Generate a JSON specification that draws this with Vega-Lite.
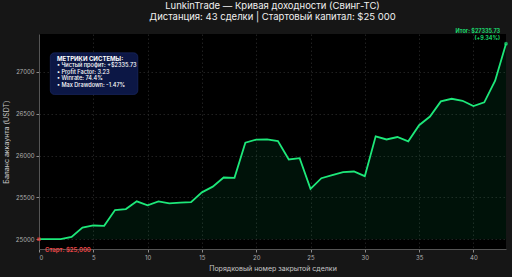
{
  "$schema": "https://vega.github.io/schema/vega-lite/v6.json",
  "width": 467,
  "height": 215,
  "autosize": {"type": "none"},
  "padding": {"left": 39, "top": 34, "right": 6, "bottom": 28},
  "background": "#161616",
  "config": {
    "font": "Inter",
    "view": {"fill": "#000000", "stroke": null},
    "axis": {
      "labelColor": "#b0b0b0",
      "labelFontSize": 6,
      "titleColor": "#c8c8c8",
      "titleFontSize": 7,
      "titleFontWeight": "normal",
      "tickColor": "#8a8a8a",
      "tickSize": 3,
      "domainColor": "#555555",
      "gridColor": "#353535",
      "gridDash": [1.5, 2.5],
      "gridWidth": 0.6
    }
  },
  "title": {
    "text": ["LunkinTrade — Кривая доходности (Свинг-ТС)", "Дистанция: 43 сделки | Стартовый капитал: $25 000"],
    "color": "#f0f0f0",
    "fontSize": 9.5,
    "fontWeight": "normal",
    "lineHeight": 11,
    "anchor": "middle",
    "frame": "group",
    "offset": 7
  },
  "layer": [
    {
      "data": {"name": "equity"},
      "mark": {"type": "area", "color": "#00e676", "opacity": 0.08},
      "encoding": {
        "x": {
          "field": "trade", "type": "quantitative",
          "scale": {"domain": [0, 43], "nice": false, "zero": false},
          "axis": {"values": [0, 5, 10, 15, 20, 25, 30, 35, 40], "title": "Порядковый номер закрытой сделки", "titlePadding": 4, "labelPadding": 2}
        },
        "y": {
          "field": "balance", "type": "quantitative",
          "scale": {"domain": [24883, 27452], "nice": false, "zero": false},
          "axis": {"values": [25000, 25500, 26000, 26500, 27000], "format": "d", "title": "Баланс аккаунта (USDT)", "titlePadding": 6, "labelPadding": 2}
        },
        "y2": {"datum": 25000}
      }
    },
    {
      "data": {"name": "equity"},
      "mark": {"type": "line", "color": "#1de87a", "strokeWidth": 1.8},
      "encoding": {
        "x": {"field": "trade", "type": "quantitative"},
        "y": {"field": "balance", "type": "quantitative"}
      }
    },
    {
      "data": {"values": [{}]},
      "mark": {"type": "point", "shape": "square", "color": "#ff3b3b", "filled": true, "size": 12},
      "encoding": {
        "x": {"datum": 0},
        "y": {"datum": 25000}
      }
    },
    {
      "data": {"values": [{}]},
      "mark": {"type": "point", "shape": "circle", "color": "#1de87a", "filled": true, "size": 14},
      "encoding": {
        "x": {"datum": 43},
        "y": {"datum": 27335.73}
      }
    },
    {
      "data": {"values": [{}]},
      "mark": {"type": "text", "color": "#f04848", "fontSize": 6, "fontWeight": 600, "align": "left", "baseline": "middle", "dx": 6, "dy": 11},
      "encoding": {
        "x": {"datum": 0},
        "y": {"datum": 25000},
        "text": {"value": "Старт: $25,000"}
      }
    },
    {
      "data": {"values": [{}]},
      "mark": {"type": "text", "color": "#1de87a", "fontSize": 5.5, "fontWeight": 600, "align": "right", "baseline": "bottom", "dx": -6, "dy": -10, "lineBreak": "\n", "lineHeight": 6.8},
      "encoding": {
        "x": {"datum": 43},
        "y": {"datum": 27335.73},
        "text": {"value": "Итог: $27335.73\n(+9.34%)"}
      }
    },
    {
      "data": {"values": [{}]},
      "mark": {"type": "rect", "fill": "#0c1745", "stroke": "#1f2d6b", "strokeWidth": 0.6, "cornerRadius": 4},
      "encoding": {
        "x": {"datum": 1.04},
        "x2": {"datum": 9.1},
        "y": {"datum": 27227},
        "y2": {"datum": 26730}
      }
    },
    {
      "data": {"values": [{}]},
      "mark": {"type": "text", "color": "#ffffff", "fontSize": 6, "fontWeight": "bold", "align": "left", "baseline": "middle"},
      "encoding": {
        "x": {"datum": 1.65},
        "y": {"datum": 27155},
        "text": {"value": "МЕТРИКИ СИСТЕМЫ:"}
      }
    },
    {
      "data": {"values": [{}]},
      "mark": {"type": "text", "color": "#ffffff", "fontSize": 5.6, "fontWeight": 500, "align": "left", "baseline": "top", "lineBreak": "\n", "lineHeight": 6.7},
      "encoding": {
        "x": {"datum": 1.65},
        "y": {"datum": 27105},
        "text": {"value": "• Чистый профит: +$2335.73\n• Profit Factor: 3.23\n• Winrate: 74.4%\n• Max Drawdown: -1.47%"}
      }
    }
  ],
  "datasets": {
    "equity": [
      {"trade": 0, "balance": 25000},
      {"trade": 1, "balance": 25000},
      {"trade": 2, "balance": 25000},
      {"trade": 3, "balance": 25028},
      {"trade": 4, "balance": 25140},
      {"trade": 5, "balance": 25164},
      {"trade": 6, "balance": 25160},
      {"trade": 7, "balance": 25348},
      {"trade": 8, "balance": 25360},
      {"trade": 9, "balance": 25452},
      {"trade": 10, "balance": 25404},
      {"trade": 11, "balance": 25452},
      {"trade": 12, "balance": 25428},
      {"trade": 13, "balance": 25436},
      {"trade": 14, "balance": 25444},
      {"trade": 15, "balance": 25560},
      {"trade": 16, "balance": 25628},
      {"trade": 17, "balance": 25737},
      {"trade": 18, "balance": 25733},
      {"trade": 19, "balance": 26154},
      {"trade": 20, "balance": 26190},
      {"trade": 21, "balance": 26194},
      {"trade": 22, "balance": 26173},
      {"trade": 23, "balance": 25953},
      {"trade": 24, "balance": 25969},
      {"trade": 25, "balance": 25601},
      {"trade": 26, "balance": 25729},
      {"trade": 27, "balance": 25765},
      {"trade": 28, "balance": 25801},
      {"trade": 29, "balance": 25809},
      {"trade": 30, "balance": 25753},
      {"trade": 31, "balance": 26230},
      {"trade": 32, "balance": 26192},
      {"trade": 33, "balance": 26221},
      {"trade": 34, "balance": 26170},
      {"trade": 35, "balance": 26362},
      {"trade": 36, "balance": 26466},
      {"trade": 37, "balance": 26647},
      {"trade": 38, "balance": 26678},
      {"trade": 39, "balance": 26654},
      {"trade": 40, "balance": 26590},
      {"trade": 41, "balance": 26635},
      {"trade": 42, "balance": 26894},
      {"trade": 43, "balance": 27335.73}
    ]
  }
}
